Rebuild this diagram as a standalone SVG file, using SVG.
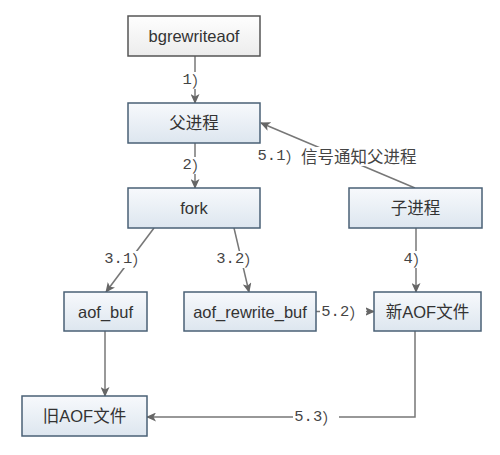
<svg xmlns="http://www.w3.org/2000/svg" width="500" height="455" viewBox="0 0 500 455">
<defs>
<linearGradient id="gBlue" x1="0" y1="0" x2="0" y2="1">
<stop offset="0" stop-color="#f7f9fc"/>
<stop offset="1" stop-color="#dde6ef"/>
</linearGradient>
<linearGradient id="gGray" x1="0" y1="0" x2="0" y2="1">
<stop offset="0" stop-color="#fefefe"/>
<stop offset="1" stop-color="#ececec"/>
</linearGradient>
<marker id="arr" markerUnits="userSpaceOnUse" markerWidth="10" markerHeight="9" refX="9" refY="4.5" orient="auto">
<path d="M0,0 L10,4.5 L0,9 L2.5,4.5 Z" fill="#666"/>
</marker>
<style>
.box{fill:url(#gBlue);stroke:#4a6076;stroke-width:1.5}
.box.gray{fill:url(#gGray);stroke:#555}
.t{font-family:"Liberation Sans","Noto Sans CJK SC",sans-serif;font-size:16.5px;fill:#333;text-anchor:middle;dominant-baseline:central}
.c{fill:none;stroke:#777;stroke-width:1.5;marker-end:url(#arr)}
.bg{fill:#fff}
.l{font-family:"Liberation Mono","Noto Sans CJK SC",monospace;font-size:15.5px;fill:#444;text-anchor:middle;dominant-baseline:central}
.cj{font-family:"Noto Sans CJK SC",sans-serif}
.zh{font-family:"Noto Sans CJK SC",sans-serif;font-size:16.5px}
</style>
</defs>
<rect width="500" height="455" fill="#fff"/>
<g id="connectors">
<path class="c" d="M195,56 V103"/>
<path class="c" d="M195,143 V188"/>
<path class="c" d="M154,228 L106,292"/>
<path class="c" d="M234,228 L249,292"/>
<path class="c" d="M416,228 V292"/>
<path class="c" d="M415,188 L261,123"/>
<path class="c" d="M316,311.5 H374"/>
<path class="c" d="M105,331 V396"/>
<path class="c" d="M415,331 V417 H147"/>
<rect class="bg" x="181" y="72" width="26" height="17"/>
<rect class="bg" x="181" y="157" width="26" height="17"/>
<rect class="bg" x="103" y="251" width="46" height="17"/>
<rect class="bg" x="215" y="251" width="46" height="17"/>
<rect class="bg" x="403" y="251" width="26" height="17"/>
<rect class="bg" x="253" y="147" width="168" height="19"/>
<rect class="bg" x="320" y="303" width="46" height="17"/>
<rect class="bg" x="293" y="409" width="46" height="17"/>
<text class="l" x="195" y="80">1<tspan class="cj">）</tspan></text>
<text class="l" x="195" y="165">2<tspan class="cj">）</tspan></text>
<text class="l" x="126" y="259">3.1<tspan class="cj">）</tspan></text>
<text class="l" x="238" y="259">3.2<tspan class="cj">）</tspan></text>
<text class="l" x="416" y="259">4<tspan class="cj">）</tspan></text>
<text class="l" x="337" y="156">5.1<tspan class="cj">）</tspan><tspan class="zh">信号通知父进程</tspan></text>
<text class="l" x="343" y="312">5.2<tspan class="cj">）</tspan></text>
<text class="l" x="316" y="417">5.3<tspan class="cj">）</tspan></text>
</g>
<g id="bgrewriteaof"><rect class="box gray" x="128" y="16" width="132" height="40"/><text class="t" x="194" y="36">bgrewriteaof</text></g>
<g id="parent"><rect class="box" x="128" y="103" width="132" height="40"/><text class="t" x="194" y="123">父进程</text></g>
<g id="fork"><rect class="box" x="128" y="188" width="132" height="40"/><text class="t" x="194" y="208">fork</text></g>
<g id="child"><rect class="box" x="349" y="188" width="133" height="40"/><text class="t" x="415.5" y="208">子进程</text></g>
<g id="aof_buf"><rect class="box" x="64" y="292" width="83" height="39"/><text class="t" x="105.5" y="311.5">aof_buf</text></g>
<g id="aof_rewrite_buf"><rect class="box" x="184" y="292" width="132" height="39"/><text class="t" x="250" y="311.5">aof_rewrite_buf</text></g>
<g id="new_aof"><rect class="box" x="374" y="292" width="107" height="39"/><text class="t" x="427.5" y="311.5">新AOF文件</text></g>
<g id="old_aof"><rect class="box" x="22" y="396" width="125" height="40"/><text class="t" x="84.5" y="416">旧AOF文件</text></g>
</svg>
